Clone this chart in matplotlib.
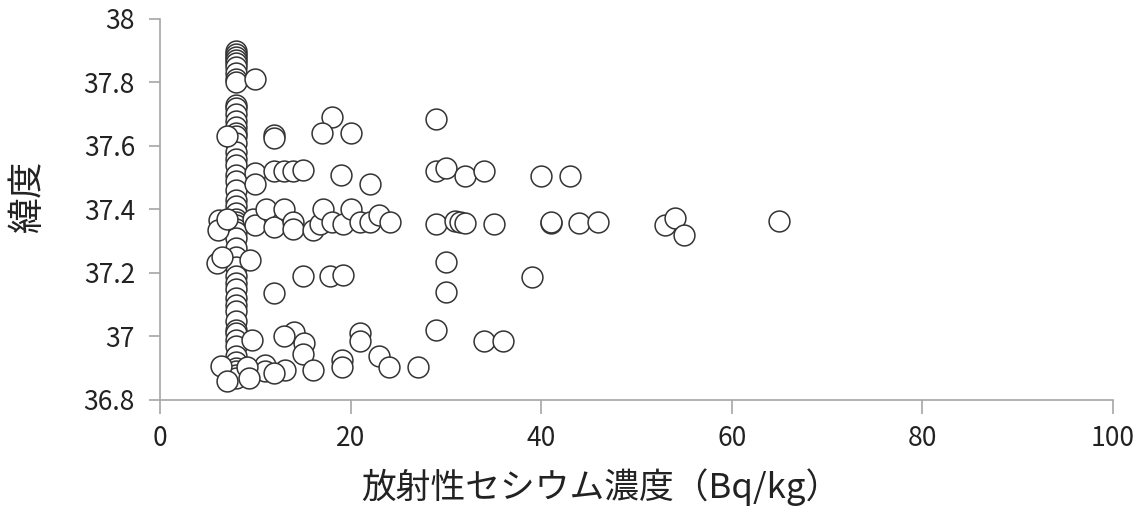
import matplotlib
matplotlib.use("Agg")
import matplotlib.pyplot as plt

plt.rcParams['font.family'] = ['Noto Sans CJK JP', 'DejaVu Sans']

# concentration (Bq/kg) and latitude
col_lat = [37.90, 37.89, 37.88, 37.87, 37.86, 37.85, 37.83, 37.81, 37.80, 37.73,
           37.72, 37.70, 37.68, 37.66, 37.64, 37.63, 37.61, 37.58, 37.56, 37.54,
           37.51, 37.49, 37.46, 37.43, 37.41, 37.39, 37.37, 37.36, 37.35, 37.34,
           37.33, 37.31, 37.28, 37.25, 37.22, 37.19, 37.17, 37.15, 37.12, 37.10,
           37.08, 37.05, 37.02, 37.01, 36.99, 36.97, 36.94, 36.92, 36.90, 36.89,
           36.88, 36.87]
col_x = [8] * len(col_lat)

other_x = [10, 7, 12, 12, 18, 17, 20, 29,
           10, 10, 12, 13, 14, 15, 19, 22, 29, 30, 32, 34, 40, 43,
           6.2, 6.1, 7, 9.8, 10, 11.1, 12, 13, 14, 14, 16, 16.8, 17.1, 18, 19.2,
           20, 21, 22, 23, 24.1, 29, 31, 31.5, 32, 35, 41, 41, 44, 46, 53, 54, 55, 65,
           6, 6.5, 9.4, 15, 17.8, 19.2, 12, 30, 30, 39,
           29, 9.6, 14.1, 13, 15.1, 15, 21, 21, 23, 24, 27.1, 34, 36,
           19.1, 19.1, 16, 13.1, 11, 11, 12, 6.4, 9.1, 9.3, 7]
other_lat = [37.81, 37.63, 37.635, 37.625, 37.69, 37.64, 37.64, 37.685,
             37.515, 37.48, 37.52, 37.52, 37.52, 37.525, 37.51, 37.48, 37.52, 37.53, 37.505, 37.52, 37.505, 37.505,
             37.367, 37.335, 37.37, 37.37, 37.35, 37.40, 37.345, 37.40, 37.36, 37.34, 37.335, 37.355, 37.40, 37.36, 37.355,
             37.40, 37.36, 37.36, 37.383, 37.36, 37.355, 37.365, 37.36, 37.357, 37.355, 37.357, 37.36, 37.357, 37.36, 37.35, 37.373, 37.32, 37.365,
             37.23, 37.25, 37.24, 37.19, 37.19, 37.195, 37.137, 37.235, 37.14, 37.187,
             37.02, 36.99, 37.015, 37.00, 36.98, 36.945, 37.01, 36.985, 36.94, 36.905, 36.905, 36.986, 36.986,
             36.925, 36.905, 36.895, 36.895, 36.91, 36.89, 36.885, 36.907, 36.905, 36.87, 36.86]

xs = col_x + other_x
ys = col_lat + other_lat

x_ticks = [0, 20, 40, 60, 80, 100]
y_ticks = [36.8, 37, 37.2, 37.4, 37.6, 37.8, 38]
y_labels = ['36.8', '37', '37.2', '37.4', '37.6', '37.8', '38']

fig = plt.figure(figsize=(11.43, 5.12), dpi=100)
ax = fig.add_axes([0.140, 0.21875, 0.8338, 0.7442])

ax.scatter(xs, ys, s=225, facecolors='white', edgecolors='#333333', linewidths=1.1, zorder=3)

ax.set_xlim(0, 100)
ax.set_ylim(36.8, 38)
ax.set_xticks(x_ticks)
ax.set_yticks(y_ticks)
ax.set_yticklabels(y_labels)

for s in ['top', 'right']:
    ax.spines[s].set_visible(False)
for s in ['left', 'bottom']:
    ax.spines[s].set_color('#a6a6a6')
    ax.spines[s].set_linewidth(1.2)
ax.tick_params(axis='both', colors='#a6a6a6', labelcolor='#222222', labelsize=19,
               width=1.2, direction='out')
ax.tick_params(axis='x', length=10, pad=8)
ax.tick_params(axis='y', length=8, pad=10)

ax.set_xlabel('放射性セシウム濃度（Bq/kg）', fontsize=25, color='#222222', va='center')
ax.xaxis.set_label_coords(0.462, -0.228)
ax.set_ylabel('緯度', fontsize=26, color='#222222', va='center', ha='center')
ax.yaxis.set_label_coords(-0.1385, 0.533)

fig.savefig('out.png', dpi=100)
